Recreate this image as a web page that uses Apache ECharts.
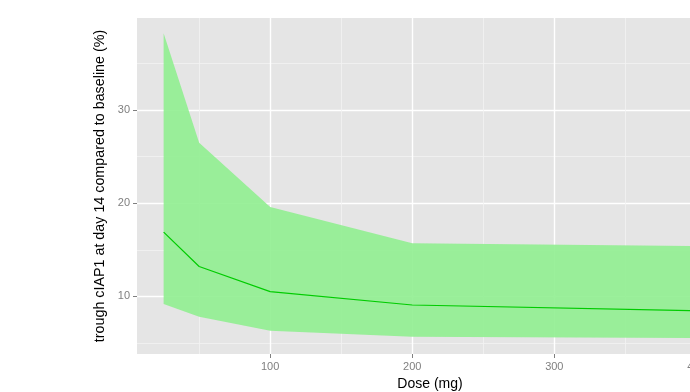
<!DOCTYPE html>
<html>
<head>
<meta charset="utf-8">
<script src="https://cdn.jsdelivr.net/npm/echarts@6/dist/echarts.min.js"></script>
<style>html,body{margin:0;padding:0;background:#fff;}#c{width:690px;height:392px;}</style>
</head>
<body>
<div id="c"></div>
<script>
// Data
var doses  = [25, 50, 100, 200, 400];
var upper  = [38.25, 26.5, 19.6, 15.7, 15.4];
var median = [16.9, 13.2, 10.5, 9.07, 8.45];
var lower  = [9.17, 7.8, 6.3, 5.67, 5.52];
var xMajor = [100, 200, 300, 400];
var xMinor = [50, 150, 250, 350];
var yMajor = [10, 20, 30];
var yMinor = [5, 15, 25, 35];

var chart = echarts.init(document.getElementById('c'), null, {renderer: 'canvas'});
var FONT = 'Liberation Sans, Arial, sans-serif';
var xMin = 6.25, xMax = 418.75, yMin = 3.81, yMax = 39.88;

function baseX(extra) {
  return Object.assign({
    type: 'value', min: xMin, max: xMax, gridIndex: 0,
    axisLine: {show: false}
  }, extra);
}
function baseY(extra) {
  return Object.assign({
    type: 'value', min: yMin, max: yMax, gridIndex: 0,
    axisLine: {show: false}
  }, extra);
}

var option = {
  backgroundColor: '#ffffff',
  animation: false,
  grid: {left: 137, top: 18, right: -33, bottom: 38, backgroundColor: '#E5E5E5', show: true, borderWidth: 0,
         outerBoundsMode: 'none', containLabel: false},
  xAxis: [
    baseX({
      name: 'Dose (mg)', nameLocation: 'middle', nameGap: 21,
      nameTextStyle: {fontFamily: FONT, fontSize: 14, color: '#000'},
      axisTick: {show: true, length: 4, customValues: xMajor, lineStyle: {color: '#7F7F7F', width: 1}},
      axisLabel: {customValues: xMajor, margin: 7, fontFamily: FONT, fontSize: 11, color: '#7F7F7F'},
      splitLine: {show: true, lineStyle: {color: '#FFFFFF', width: 1.4}}
    }),
    baseX({
      axisTick: {show: false, customValues: xMinor},
      axisLabel: {show: false, customValues: xMinor},
      splitLine: {show: true, lineStyle: {color: '#F2F2F2', width: 0.8}}
    })
  ],
  yAxis: [
    baseY({
      name: 'trough cIAP1 at day 14 compared to baseline (%)', nameLocation: 'middle', nameGap: 24,
      nameTextStyle: {fontFamily: FONT, fontSize: 14.3, color: '#000'},
      axisTick: {show: true, length: 4, customValues: yMajor, lineStyle: {color: '#7F7F7F', width: 1}},
      axisLabel: {customValues: yMajor, margin: 7, fontFamily: FONT, fontSize: 11, color: '#7F7F7F'},
      splitLine: {show: true, lineStyle: {color: '#FFFFFF', width: 1.4}}
    }),
    baseY({
      axisTick: {show: false, customValues: yMinor},
      axisLabel: {show: false, customValues: yMinor},
      splitLine: {show: true, lineStyle: {color: '#F2F2F2', width: 0.8}}
    })
  ],
  series: [
    {
      type: 'custom',
      xAxisIndex: 0, yAxisIndex: 0,
      data: [[0]],
      renderItem: function (params, api) {
        var pts = [];
        for (var i = 0; i < doses.length; i++) pts.push(api.coord([doses[i], upper[i]]));
        for (var j = doses.length - 1; j >= 0; j--) pts.push(api.coord([doses[j], lower[j]]));
        return {type: 'polygon', shape: {points: pts}, style: {fill: 'rgba(144,238,144,0.9)'}};
      },
      silent: true, z: 2
    },
    {
      type: 'line',
      xAxisIndex: 0, yAxisIndex: 0,
      data: doses.map(function (d, i) { return [d, median[i]]; }),
      showSymbol: false, symbol: 'none',
      lineStyle: {color: '#00CC00', width: 1.2},
      z: 3
    }
  ]
};
chart.setOption(option);
</script>
</body>
</html>
